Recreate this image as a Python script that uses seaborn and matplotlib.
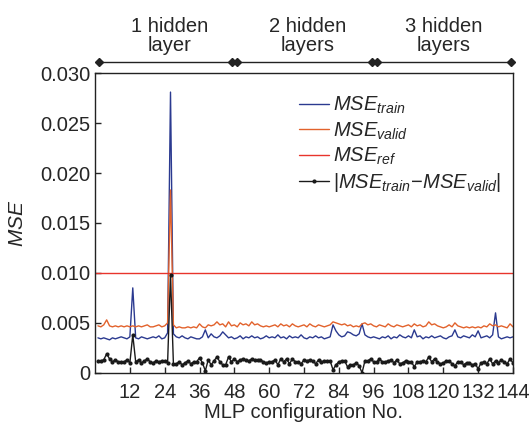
import numpy as np
import pandas as pd
import seaborn as sns
import matplotlib.pyplot as plt

# MLP configurations 1..144, MSE values (x 1e-3)
config_no = np.arange(1, 145)

mse_train = [
    3.5, 3.4, 3.5, 3.4, 3.3, 3.5, 3.4, 3.5, 3.6, 3.5, 3.4, 3.6, 8.5, 3.5, 3.4, 3.6,
    3.5, 3.4, 3.5, 3.6, 3.5, 3.7, 3.4, 3.5, 4.0, 28.1, 3.9, 3.6, 3.5, 3.7, 3.5, 3.4,
    3.6, 3.5, 3.4, 3.4, 3.6, 4.3, 3.5, 3.9, 3.6, 3.5, 3.7, 4.1, 3.8, 3.5, 3.6, 3.4,
    3.5, 3.7, 3.4, 3.6, 3.5, 3.7, 3.5, 3.6, 3.4, 3.5, 3.7, 3.5, 3.6, 3.5, 3.8, 3.5,
    3.6, 3.4, 3.7, 3.5, 3.6, 3.5, 3.8, 3.5, 3.4, 3.6, 3.5, 3.7, 3.5, 3.6, 3.4, 3.5,
    3.6, 4.8, 4.2, 3.8, 3.6, 3.7, 4.1, 4.0, 3.8, 3.7, 3.9, 4.9, 3.8, 3.6, 3.5, 3.6,
    3.5, 3.4, 3.6, 3.5, 3.7, 3.4, 3.6, 3.5, 3.8, 3.6, 3.5, 3.7, 3.5, 4.3, 3.6, 3.7,
    3.4, 3.6, 3.5, 3.7, 3.5, 3.6, 3.7, 3.5, 3.4, 3.6, 3.7, 4.3, 3.6, 3.5, 3.7, 3.6,
    3.5, 3.8, 3.6, 4.2, 3.5, 3.6, 3.7, 3.5, 3.8, 6.0, 3.6, 3.4, 3.5, 3.6, 3.5, 3.6,
]

mse_valid = [
    4.7, 4.6, 4.8, 5.3, 4.7, 4.6, 4.7, 4.6, 4.7, 4.6, 4.7, 4.6, 4.7, 4.6, 4.7, 4.6,
    4.7, 4.8, 4.6, 4.6, 4.7, 4.8, 4.6, 4.7, 5.0, 18.3, 4.8, 4.5, 4.6, 4.5, 4.5, 4.6,
    4.5, 4.6, 4.5, 4.9, 4.6, 4.5, 4.8, 4.7, 4.8, 5.1, 4.8, 4.9, 4.6, 5.1, 4.7, 4.8,
    4.6, 5.0, 4.8, 4.9, 4.7, 5.1, 4.8, 4.9, 4.7, 4.6, 4.7, 4.6, 4.7, 4.8, 4.6, 4.9,
    4.7, 4.8, 4.6, 4.9, 4.7, 4.6, 4.7, 4.8, 4.6, 4.9, 4.7, 4.6, 4.8, 4.7, 4.6, 4.7,
    4.8, 5.1, 5.0, 4.9, 4.8, 4.9, 4.7, 4.8, 4.6, 4.7, 4.6, 4.9, 5.0, 4.8, 4.9, 4.7,
    4.6, 4.8, 4.7, 4.6, 4.9, 4.7, 4.6, 4.8, 4.7, 4.6, 4.7, 4.8, 4.6, 4.9, 4.7, 4.8,
    4.6, 4.7, 5.1, 4.8, 4.9, 4.7, 4.6, 4.5, 4.6, 4.8, 4.6, 5.0, 4.7, 4.6, 4.5, 4.6,
    4.5, 4.6, 4.5, 4.6, 4.5, 4.7, 4.6, 4.9, 4.7, 4.8, 4.6, 4.7, 4.6, 4.5, 4.9, 4.6,
]

mse_ref = 10.0

layer_labels = ['1 hidden\nlayer', '2 hidden\nlayers', '3 hidden\nlayers']
layer_spans = [(1.2, 47.1), (48.9, 95.5), (97.2, 143.5)]
layer_label_x = [25.8, 73.4, 120]

df = pd.DataFrame({
    'config': config_no,
    'train': np.array(mse_train) * 1e-3,
    'valid': np.array(mse_valid) * 1e-3,
})
df['diff'] = (df['train'] - df['valid']).abs()

sns.set_style('ticks')
plt.rcParams['font.family'] = ['Liberation Sans', 'DejaVu Sans']
plt.rcParams['mathtext.fontset'] = 'custom'
plt.rcParams['mathtext.it'] = 'Liberation Sans:italic'
plt.rcParams['mathtext.rm'] = 'Liberation Sans'

fig = plt.figure(figsize=(5.31, 4.30), dpi=100)
ax = fig.add_axes([0.179, 0.133, 0.787, 0.697])

sns.lineplot(data=df, x='config', y='train', ax=ax, color='#2b3a90', lw=1.0,
             label=r'$MSE_{train}$')
sns.lineplot(data=df, x='config', y='valid', ax=ax, color='#e2622c', lw=1.0,
             label=r'$MSE_{valid}$')
ax.axhline(mse_ref * 1e-3, color='#e8342c', lw=1.0, label=r'$MSE_{ref}$')
sns.lineplot(data=df, x='config', y='diff', ax=ax, color='#1a1a1a', lw=1.0,
             marker='o', markersize=3, markeredgewidth=0,
             label=r'$|MSE_{train}\!-\!MSE_{valid}|$')

ax.set_xlim(0, 144)
ax.set_ylim(0, 0.030)
ax.set_xticks(np.arange(12, 145, 12))
ax.set_yticks([0, 0.005, 0.010, 0.015, 0.020, 0.025, 0.030])
ax.set_yticklabels(['0', '0.005', '0.010', '0.015', '0.020', '0.025', '0.030'])
ax.tick_params(direction='in', length=4, labelsize=14.5, width=1)
ax.tick_params(axis='x', pad=7)
for s in ax.spines.values():
    s.set_linewidth(1.0)
    s.set_color('#222222')

ax.set_xlabel('MLP configuration No.', fontsize=14.5, labelpad=1)
ax.set_ylabel(r'$MSE$', fontsize=15, labelpad=9)

ax.legend(loc='upper left', bbox_to_anchor=(0.469, 0.954), frameon=False,
          fontsize=14.5, handlelength=1.5, handletextpad=0.2, labelspacing=0.2,
          borderaxespad=0)

# layer brackets above the plot
tr = ax.get_xaxis_transform()
for (x0, x1), lab, xc in zip(layer_spans, layer_labels, layer_label_x):
    ax.plot([x0, x1], [1.037, 1.037], transform=tr, color='#222222', lw=1.0,
            marker='D', markersize=4, clip_on=False)
    ax.text(xc, 1.062, lab, transform=tr, ha='center', va='bottom',
            fontsize=14.5, linespacing=1.0)

fig.savefig('out.png', dpi=100)
